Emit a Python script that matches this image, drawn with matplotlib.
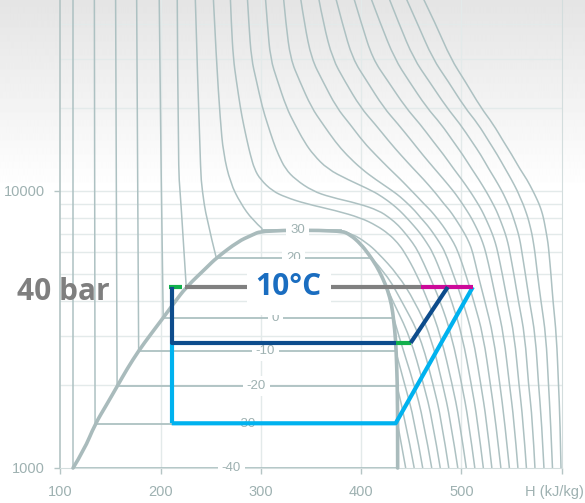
import numpy as np
import matplotlib.pyplot as plt
from matplotlib.patches import Rectangle, PathPatch
from matplotlib.path import Path

ROW_P = [50000, 40000, 30000, 25000, 20000, 17500, 15000, 13500, 12000, 11000,
         10000, 9500, 9000, 8500, 8000, 7500, 7000, 6500, 6000, 5000,
         4000, 3000, 2000, 1500, 1000]

# supercritical isotherms (deg C), enthalpy in kJ/kg at each ROW_P
SUPER_T = [40, 50, 60, 70, 80, 90, 100, 110, 120, 130, 140, 150]
SUPER_H = [
    [269.5, 270.5, 272.5, 275.5, 279.5, 282.5, 286.5, 289.5, 293.5, 299.5, 311.5, 324.5, 344.5,
     374.5, 399.5, 415.5, 427.5, 436.5, 443.5, 455.5, 467.0, 479.5, 491.0, 498.0, 505.0],
    [286.5, 288.0, 290.5, 295.5, 301.5, 306.5, 312.5, 317.5, 324.5, 334.5, 351.5, 369.5, 397.5,
     417.5, 428.5, 437.5, 444.5, 451.5, 457.5, 467.5, 479.0, 490.5, 500.5, 507.0, 513.5],
    [304.5, 306.5, 309.5, 316.5, 325.5, 333.5, 343.5, 352.5, 366.5, 386.5, 411.5, 421.5, 430.5,
     438.5, 445.5, 452.5, 459.5, 465.5, 471.5, 480.5, 490.5, 501.0, 510.0, 516.0, 522.0],
    [322.5, 325.0, 329.5, 338.5, 350.5, 361.5, 374.5, 385.5, 400.5, 414.5, 431.5, 439.5, 446.5,
     453.5, 459.5, 466.5, 472.5, 478.5, 484.0, 492.0, 501.5, 511.5, 519.5, 525.0, 530.5],
    [339.5, 343.5, 350.5, 361.5, 375.5, 388.5, 402.5, 414.5, 428.5, 439.5, 450.5, 456.5, 462.5,
     469.5, 475.5, 481.5, 487.0, 492.5, 497.0, 504.5, 512.5, 522.0, 529.0, 534.0, 539.5],
    [357.5, 362.5, 371.5, 383.5, 399.5, 413.5, 428.5, 439.5, 452.5, 462.5, 472.5, 477.5, 482.5,
     488.5, 493.5, 498.5, 503.5, 508.0, 511.5, 516.5, 523.5, 532.0, 538.5, 543.0, 548.0],
    [374.5, 381.5, 391.5, 405.5, 422.5, 436.5, 451.5, 461.5, 473.5, 482.5, 492.0, 496.5, 501.0,
     505.5, 510.0, 514.0, 518.0, 521.5, 524.5, 529.5, 535.0, 542.5, 548.0, 552.5, 556.5],
    [392.5, 400.5, 411.5, 426.5, 444.5, 458.5, 472.5, 482.5, 492.5, 500.5, 508.5, 512.5, 516.5,
     520.5, 524.0, 527.5, 531.0, 534.0, 536.5, 541.0, 546.0, 553.0, 557.5, 561.5, 565.0],
    [409.5, 419.5, 433.5, 447.5, 465.5, 479.5, 492.5, 501.5, 510.5, 517.5, 524.5, 528.0, 531.5,
     535.0, 538.0, 541.0, 544.0, 546.5, 548.5, 552.5, 557.0, 563.5, 567.0, 571.0, 573.5],
    [427.5, 438.0, 452.5, 467.5, 485.5, 498.5, 511.0, 519.5, 527.5, 534.0, 540.5, 543.5, 546.5,
     549.5, 552.0, 554.5, 557.0, 559.0, 560.5, 564.0, 568.0, 574.0, 577.0, 580.0, 582.5],
    [444.5, 456.5, 471.5, 486.5, 503.5, 516.5, 528.0, 536.0, 544.0, 550.0, 556.0, 558.5, 561.5,
     564.0, 566.5, 568.5, 570.5, 572.0, 573.5, 576.0, 579.5, 584.5, 587.0, 589.0, 591.0],
    [461.5, 474.5, 489.5, 503.5, 519.5, 531.5, 542.5, 550.5, 558.5, 565.5, 571.5, 574.5, 577.5,
     580.0, 582.0, 583.5, 585.0, 586.5, 587.5, 589.5, 591.5, 595.0, 597.0, 598.5, 599.5],
]

# liquid side of the subcritical isotherms: (p kPa, h kJ/kg)
LIQ_T = [-40, -30, -20, -10, 0, 10, 20, 30]
LIQ_P = [
    [50000, 1000],
    [50000, 1440],
    [50000, 1970],
    [50000, 2650],
    [50000, 10000, 3485],
    [50000, 12000, 10000, 4500],
    [50000, 12000, 10000, 8000, 5730],
    [50000, 30000, 18000, 13700, 10700, 9050, 7860, 7300],
]
LIQ_H = [
    [112.8, 112.8],
    [133.8, 134.5],
    [155.0, 156.5],
    [176.0, 178.0],
    [198.5, 200.5, 202.5],
    [216.5, 217.5, 219.5, 225.5],
    [234.5, 239.5, 241.5, 245.5, 255.5],
    [252.5, 255.5, 259.5, 262.5, 269.5, 279.5, 291.5, 301.5],
]

# vapour side of the subcritical isotherms (-30 .. 30 deg C)
VAP_P = [
    [1440, 1000],
    [1970, 1500, 1000],
    [2650, 2000, 1500, 1000],
    [3485, 3000, 2000, 1500, 1000],
    [4500, 4000, 3000, 2000, 1500, 1000],
    [5730, 5000, 4000, 3000, 2000, 1500, 1000],
    [7210, 7000, 6500, 6000, 5000, 4000, 3000, 2000, 1500, 1000],
]
VAP_H = [
    [436.5, 444.5],
    [436.0, 444.0, 453.0],
    [434.5, 443.5, 453.0, 461.5],
    [432.5, 437.5, 453.0, 462.0, 470.5],
    [425.5, 431.5, 448.5, 462.5, 471.0, 479.0],
    [410.5, 425.5, 440.5, 459.0, 472.0, 480.0, 487.5],
    [379.5, 391.5, 405.5, 416.5, 436.5, 453.5, 469.5, 481.5, 489.0, 496.5],
]

# saturation lines inside the dome
SAT_T = [-40, -30, -20, -10, 0, 10, 20, 30]
SAT_P = [1000, 1440, 1970, 2650, 3485, 4500, 5730, 7210]
SAT_HL = [112.5, 134.5, 156.5, 178.0, 202.5, 225.5, 255.5, 301.5]
SAT_HV = [436.5, 436.5, 436.0, 434.5, 432.5, 425.5, 410.5, 379.5]
SAT_LABEL_H = [270.5, 285.5, 295.5, 304.5, 314.5, None, 332.5, 336.5]

# dome outline
DOME_P = [1000, 1160, 1440, 1680, 1970, 2280, 2650, 3020, 3485, 3950, 4500,
          5300, 5730, 6580, 6900, 7210, 7210, 6940, 6440, 5920, 5360, 4850,
          4390, 3880, 3425, 2900, 2360, 1760, 1000]
DOME_H = [112.5, 123.5, 134.5, 145.5, 156.5, 166.5, 178.0, 189.5, 202.5, 213.5,
          225.5, 246.0, 255.5, 277.5, 290.0, 301.5, 379.5, 389.5, 399.5, 407.5,
          415.5, 421.5, 426.5, 430.5, 432.5, 434.5, 435.5, 436.5, 436.5]

# refrigeration cycle
P_HIGH, P_MID, P_LOW = 4500, 2830, 1450
H_LIQ = 211.0
GREEN_TOP_H = [208.5, 221.5]
GRAY_H = [224.5, 459.5]
MAGENTA_H = [459.5, 511.5]
DARK_H = [211.0, 434.5]
GREEN_MID_H = [434.5, 449.5]
DARK_DIAG_H = [449.5, 486.5]
LIGHT_H = [211.0, 434.5]
LIGHT_DIAG_H = [434.5, 511.5]

LINE_C = '#adc1c2'
DOME_C = '#a9bbbc'
GRID_C = '#e3eaea'
TEXT_C = '#9eb1b1'
THIN = ['Liberation Sans', 'DejaVu Sans']
BOLD = ['Open Sans', 'DejaVu Sans']


def smooth_curve(ax, hs, ps, **kw):
    # quadratic b-spline through the read points, built in log-p space
    pts = np.column_stack([hs, np.log10(ps)])
    verts = [pts[0]]
    codes = [Path.MOVETO]
    if len(pts) == 2:
        verts.append(pts[1])
        codes.append(Path.LINETO)
    else:
        for i in range(1, len(pts) - 1):
            end = pts[i + 1] if i == len(pts) - 2 else (pts[i] + pts[i + 1]) / 2
            verts += [pts[i], end]
            codes += [Path.CURVE3, Path.CURVE3]
    verts = np.array(verts)
    verts[:, 1] = 10 ** verts[:, 1]
    ax.add_patch(PathPatch(Path(verts, codes), fill=False, **kw))


fig = plt.figure(figsize=(5.85, 5.03), dpi=100)

# soft grey gradient behind everything
bg = fig.add_axes([0, 0, 1, 1], zorder=-10)
rows = np.arange(503)
shade = np.clip(0.895 + 0.105 * rows / 190.0, 0, 1)[:, None]
bg.imshow(np.repeat(shade, 2, axis=1), cmap='gray', vmin=0, vmax=1,
          aspect='auto', extent=[0, 1, 0, 1])
bg.axis('off')

ax = fig.add_axes([60.5 / 585, 35 / 503, 501 / 585, 468 / 503])
ax.set_facecolor('none')
ax.set_yscale('log')
ax.set_xlim(100, 600)
ax.set_ylim(1000, 48900)

for h in [200, 300, 400, 500]:
    ax.axvline(h, color=GRID_C, lw=1, zorder=1)
for p in [2000, 3000, 4000, 5000, 6000, 7000, 8000, 9000, 10000, 20000, 30000, 40000]:
    ax.axhline(p, color=GRID_C, lw=1, zorder=1)

for hs in SUPER_H:
    smooth_curve(ax, hs, ROW_P, ec=LINE_C, lw=1.1, zorder=2)
for ps, hs in zip(LIQ_P, LIQ_H):
    smooth_curve(ax, hs, ps, ec=LINE_C, lw=1.1, zorder=2)
for ps, hs in zip(VAP_P, VAP_H):
    smooth_curve(ax, hs, ps, ec=LINE_C, lw=1.1, zorder=2)
for p, hl, hv in zip(SAT_P, SAT_HL, SAT_HV):
    ax.plot([hl, hv], [p, p], color=LINE_C, lw=1.3, zorder=2, clip_on=False)

smooth_curve(ax, DOME_H, DOME_P, ec=DOME_C, lw=2.6, zorder=3, clip_on=False,
             joinstyle='round', capstyle='round')

for t, p, hx in zip(SAT_T, SAT_P, SAT_LABEL_H):
    if hx is None:
        continue
    ax.text(hx, p, str(t), color=TEXT_C, fontsize=9.5, family=THIN,
            ha='center', va='center', zorder=4, clip_on=False,
            bbox=dict(boxstyle='square,pad=0.3', fc='white', ec='none'))

# cycle
lw = 3.0
ax.plot(GRAY_H, [P_HIGH, P_HIGH], color='#808080', lw=lw, zorder=5, solid_capstyle='butt')
ax.plot(MAGENTA_H, [P_HIGH, P_HIGH], color='#cc0a99', lw=lw, zorder=6, solid_capstyle='butt')
ax.plot(GREEN_TOP_H, [P_HIGH, P_HIGH], color='#12b04c', lw=lw, zorder=6, solid_capstyle='butt')
ax.plot([H_LIQ, H_LIQ], [P_MID, P_LOW], color='#00b2ef', lw=lw, zorder=5, solid_capstyle='butt')
ax.plot([LIGHT_H[0], LIGHT_H[1], LIGHT_DIAG_H[1]], [P_LOW, P_LOW, P_HIGH],
        color='#00b2ef', lw=lw, zorder=5, solid_capstyle='butt')
ax.plot([H_LIQ, H_LIQ, DARK_H[1]], [P_HIGH, P_MID, P_MID], color='#0d4c8c', lw=lw,
        zorder=6, solid_capstyle='butt')
ax.plot(GREEN_MID_H, [P_MID, P_MID], color='#12b04c', lw=lw, zorder=6, solid_capstyle='butt')
ax.plot([DARK_DIAG_H[0], DARK_DIAG_H[1]], [P_MID, P_HIGH], color='#0d4c8c', lw=lw,
        zorder=6, solid_capstyle='butt')

ax.add_patch(Rectangle((286.5, 3566), 83, 5683 - 3566, fc='white', ec='none', zorder=7))
ax.text(327.5, P_HIGH, '10°C', color='#1a6dc0', fontsize=21.5, fontweight='bold',
        family=BOLD, ha='center', va='center', zorder=8)
fig.text(63 / 585, 1 - 292 / 503, '40 bar', color='#7f7f7f', fontsize=21.5,
         fontweight='bold', family=BOLD, ha='center', va='center')

ax.spines['top'].set_visible(False)
ax.spines['left'].set_color('#b3c4c4')
ax.spines['right'].set_color('#d3dddd')
ax.spines['bottom'].set_color('#d3dddd')
ax.spines['left'].set_linewidth(1.2)

ax.set_xticks([100, 200, 300, 400, 500, 600])
ax.set_xticklabels(['100', '200', '300', '400', '500', ''])
ax.set_yticks([1000, 10000])
ax.set_yticklabels(['1000', '10000'])
ax.yaxis.set_minor_locator(plt.NullLocator())
ax.tick_params(axis='both', colors='#b5c5c5', labelcolor=TEXT_C, length=4, width=1,
               labelsize=10.5)
ax.tick_params(axis='x', pad=8)
ax.tick_params(axis='y', pad=7)
for lab in ax.get_xticklabels() + ax.get_yticklabels():
    lab.set_family(THIN)
fig.text(584 / 585, 1 - 492 / 503, 'H (kJ/kg)', color=TEXT_C, fontsize=10.5,
         family=THIN, ha='right', va='center')

fig.savefig('out.png', dpi=100)
